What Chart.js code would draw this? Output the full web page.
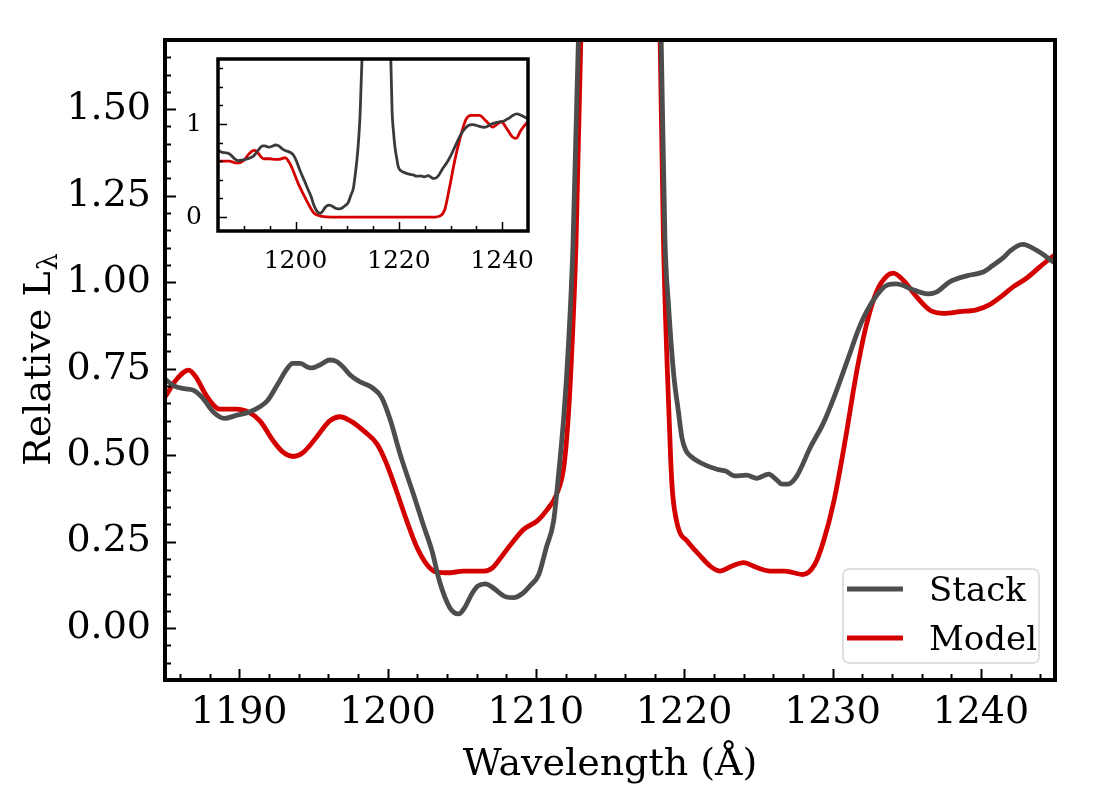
<!DOCTYPE html>
<html>
<head>
<meta charset="utf-8">
<title>Stack vs Model</title>
<script src="https://cdn.jsdelivr.net/npm/chart.js@4.4.1/dist/chart.umd.min.js"></script>
<style>
  body { margin: 0; background: #fff; }
  #wrap { position: relative; width: 1100px; height: 800px; }
  #wrap canvas { position: absolute; left: 0; top: 0; }
</style>
</head>
<body>
<div id="wrap">
  <canvas id="mainChart" width="1100" height="800"></canvas>
  <canvas id="insetChart" width="1100" height="800"></canvas>
</div>
<script>
// stacked spectrum
const stackWave = [1185.0, 1185.6, 1186.3, 1186.9, 1187.5, 1188.3, 1189.0, 1189.8, 1190.7, 1191.4,
  1191.9, 1192.6, 1193.2, 1193.6, 1194.1, 1194.6, 1194.9, 1195.5, 1196.1, 1196.6,
  1197.0, 1197.5, 1198.1, 1199.0, 1199.6, 1200.2, 1200.85, 1201.75, 1202.4, 1203.0,
  1203.5, 1204.2, 1204.8, 1205.2, 1205.7, 1206.1, 1206.6, 1207.1, 1207.6, 1208.0,
  1208.5, 1209.1, 1209.6, 1210.2, 1210.7, 1211.2, 1211.5, 1211.9, 1212.2, 1212.5,
  1212.87, 1213.2, 1213.7, 1214.4, 1215.2, 1216.0, 1216.8, 1217.5, 1218.1, 1218.45,
  1218.7, 1218.95, 1219.3, 1219.6, 1219.85, 1220.1, 1220.4, 1221.1, 1222.2, 1222.8,
  1223.4, 1224.2, 1224.9, 1225.7, 1226.2, 1226.6, 1227.0, 1227.6, 1228.5, 1229.4,
  1230.1, 1231.0, 1231.9, 1232.8, 1233.7, 1234.3, 1235.5, 1236.5, 1237.0, 1237.9,
  1239.1, 1240.2, 1240.8, 1241.5, 1242.0, 1242.8, 1243.8, 1245.0];
const stackFlux = [0.72, 0.70, 0.692, 0.688, 0.667, 0.623, 0.606, 0.615, 0.625, 0.64,
  0.657, 0.705, 0.748, 0.765, 0.765, 0.755, 0.752, 0.762, 0.775, 0.770,
  0.755, 0.731, 0.713, 0.694, 0.667, 0.60, 0.503, 0.387, 0.30, 0.223,
  0.136, 0.059, 0.041, 0.059, 0.10, 0.122, 0.128, 0.117, 0.10, 0.09,
  0.088, 0.10, 0.122, 0.155, 0.232, 0.31, 0.43, 0.62, 0.82, 1.10,
  1.70, 2.4, 3.2, 3.8, 4.0, 3.9, 3.4, 2.7, 2.3, 1.70,
  1.13, 0.93, 0.73, 0.63, 0.55, 0.515, 0.498, 0.478, 0.459, 0.454,
  0.44, 0.442, 0.433, 0.445, 0.43, 0.416, 0.416, 0.44, 0.522, 0.594,
  0.667, 0.773, 0.879, 0.951, 0.992, 0.995, 0.977, 0.966, 0.971, 1.001,
  1.019, 1.03, 1.048, 1.07, 1.091, 1.109, 1.091, 1.055];

// convolved model shown in the main panel
const modelWave = [1185.0, 1185.8, 1186.6, 1187.1, 1187.8, 1188.7, 1189.8, 1190.7, 1191.4, 1192.3,
  1193.0, 1193.65, 1194.3, 1195.2, 1196.1, 1196.8, 1197.5, 1198.4, 1199.3, 1199.95,
  1200.6, 1201.3, 1202.0, 1202.65, 1203.3, 1204.2, 1205.1, 1206.5, 1207.1, 1207.8,
  1208.5, 1209.2, 1210.1, 1210.7, 1211.4, 1211.9, 1212.2, 1212.4, 1212.7, 1213.03,
  1213.4, 1213.9, 1214.6, 1215.4, 1216.2, 1217.0, 1217.6, 1218.05, 1218.38, 1218.6,
  1218.87, 1219.08, 1219.2, 1219.6, 1220.2, 1221.1, 1221.75, 1222.4, 1223.2, 1224.0,
  1224.9, 1225.8, 1226.8, 1228.0, 1228.8, 1229.4, 1230.1, 1230.85, 1231.6, 1232.3,
  1233.0, 1233.7, 1234.1, 1234.8, 1235.7, 1236.6, 1237.5, 1238.6, 1239.7, 1240.6,
  1241.3, 1242.2, 1243.1, 1244.0, 1245.0];
const modelFlux = [0.668, 0.72, 0.746, 0.725, 0.671, 0.633, 0.633, 0.623, 0.599, 0.541,
  0.507, 0.496, 0.507, 0.551, 0.599, 0.611, 0.599, 0.570, 0.532, 0.474,
  0.397, 0.31, 0.232, 0.184, 0.162, 0.16, 0.165, 0.165, 0.175, 0.213,
  0.252, 0.286, 0.31, 0.339, 0.387, 0.47, 0.62, 0.78, 1.10, 1.70,
  2.5, 3.3, 3.9, 4.1, 4.0, 3.5, 2.8, 2.25, 1.70, 1.13,
  0.74, 0.50, 0.40, 0.29, 0.252, 0.208, 0.179, 0.165, 0.179, 0.189,
  0.175, 0.165, 0.165, 0.155, 0.184, 0.252, 0.368, 0.541, 0.734, 0.879,
  0.975, 1.019, 1.026, 1.004, 0.956, 0.918, 0.91, 0.915, 0.92, 0.935,
  0.956, 0.987, 1.012, 1.045, 1.08];

// intrinsic model shown in the inset
const insetWave = [1185.0, 1187.1, 1188.7, 1190.0, 1191.0, 1191.6, 1192.2, 1193.0, 1193.8, 1195.1,
  1196.0, 1196.7, 1198.0, 1199.0, 1200.6, 1202.2, 1203.5, 1205.1, 1207.0, 1226.9,
  1227.9, 1228.9, 1229.8, 1230.8, 1231.8, 1233.0, 1234.0, 1235.6, 1236.9, 1238.2,
  1238.8, 1239.8, 1240.8, 1242.0, 1242.7, 1243.6, 1244.9];
const insetFlux = [0.602, 0.602, 0.58, 0.609, 0.68, 0.71, 0.717, 0.67, 0.627, 0.627,
  0.62, 0.62, 0.638, 0.566, 0.351, 0.172, 0.047, 0.007, 0.0, 0.0,
  0.01, 0.082, 0.315, 0.602, 0.835, 1.05, 1.093, 1.093, 1.032, 0.968,
  0.989, 1.025, 0.96, 0.86, 0.846, 0.932, 1.025];

const xTicks = [1190, 1200, 1210, 1220, 1230, 1240];
const yTicks = [0, 0.25, 0.5, 0.75, 1.0, 1.25, 1.5];
const insetXTicks = [1200, 1220, 1240];
const insetYTicks = [0, 1];

const xTitle = 'Wavelength (Å)';
const yTitle = 'Relative L';
const yTitleSub = 'λ';

const FONT = '"DejaVu Serif", "Liberation Serif", serif';
const stackColor = '#4d4d4d';
const modelColor = '#d40000';

function pts(xs, ys) {
  return xs.map((x, i) => ({x: x, y: ys[i]}));
}

function tickValues(min, max, step) {
  const out = [];
  const first = Math.ceil(min / step - 1e-6);
  const last = Math.floor(max / step + 1e-6);
  for (let i = first; i <= last; i++) {
    const v = +(i * step).toFixed(6);
    if (v > min + 1e-6 && v < max - 1e-6) out.push(v);
  }
  return out;
}

function isMajor(v, step) {
  return Math.abs(v / step - Math.round(v / step)) < 1e-6;
}

// white face, box frame and inward ticks like matplotlib
function framePlugin(cfg) {
  return {
    id: 'frame',
    beforeDatasetsDraw(chart) {
      const {ctx, chartArea: a} = chart;
      ctx.save();
      ctx.fillStyle = '#fff';
      ctx.fillRect(a.left, a.top, a.right - a.left, a.bottom - a.top);
      ctx.restore();
    },
    afterDraw(chart) {
      const {ctx, chartArea: a, scales: {x, y}} = chart;
      ctx.save();
      ctx.strokeStyle = '#000';
      ctx.lineWidth = cfg.tickWidth;
      ctx.beginPath();
      tickValues(x.min, x.max, cfg.xMinor).forEach(v => {
        const px = Math.round(x.getPixelForValue(v)) + 0.5;
        const len = isMajor(v, cfg.xMajor) ? cfg.majorLen : cfg.minorLen;
        ctx.moveTo(px, a.bottom);
        ctx.lineTo(px, a.bottom - len);
      });
      tickValues(y.min, y.max, cfg.yMinor).forEach(v => {
        const py = Math.round(y.getPixelForValue(v)) + 0.5;
        const len = isMajor(v, cfg.yMajor) ? cfg.majorLen : cfg.minorLen;
        ctx.moveTo(a.left, py);
        ctx.lineTo(a.left + len, py);
      });
      ctx.stroke();
      ctx.lineWidth = cfg.frameWidth;
      ctx.lineJoin = 'miter';
      ctx.strokeRect(a.left, a.top, a.right - a.left, a.bottom - a.top);
      ctx.restore();
      if (cfg.extra) cfg.extra(chart);
    }
  };
}

function drawYTitle(chart) {
  const {ctx, chartArea: a} = chart;
  ctx.save();
  ctx.fillStyle = '#000';
  ctx.textBaseline = 'alphabetic';
  ctx.font = '38px ' + FONT;
  const w1 = ctx.measureText(yTitle).width;
  ctx.font = '27px ' + FONT;
  const w2 = ctx.measureText(yTitleSub).width;
  ctx.translate(50, (a.top + a.bottom) / 2);
  ctx.rotate(-Math.PI / 2);
  ctx.font = '38px ' + FONT;
  ctx.fillText(yTitle, -(w1 + w2) / 2, 0);
  ctx.font = '27px ' + FONT;
  ctx.fillText(yTitleSub, -(w1 + w2) / 2 + w1 + 1, 7);
  ctx.restore();
}

function drawLegend(chart) {
  const {ctx, chartArea: a} = chart;
  const w = 196, h = 94;
  const left = a.right - 16 - w, top = a.bottom - 17 - h;
  ctx.save();
  ctx.fillStyle = 'rgba(255,255,255,0.8)';
  ctx.strokeStyle = '#d6d6d6';
  ctx.lineWidth = 1.5;
  ctx.beginPath();
  ctx.roundRect(left, top, w, h, 6);
  ctx.fill();
  ctx.stroke();
  ctx.font = '34px ' + FONT;
  ctx.textBaseline = 'alphabetic';
  chart.data.datasets.forEach((ds, i) => {
    const rowY = top + 20 + i * 49;
    ctx.strokeStyle = ds.borderColor;
    ctx.lineWidth = ds.borderWidth;
    ctx.beginPath();
    ctx.moveTo(left + 4, rowY);
    ctx.lineTo(left + 60, rowY);
    ctx.stroke();
    ctx.fillStyle = '#000';
    ctx.fillText(ds.label, left + 86, rowY + 12);
  });
  ctx.restore();
}

const mainCtx = document.getElementById('mainChart');
const insetCtx = document.getElementById('insetChart');

new Chart(mainCtx, {
  type: 'line',
  data: {
    datasets: [{
      label: 'Stack',
      data: pts(stackWave, stackFlux),
      borderColor: stackColor,
      borderWidth: 4.8,
      pointRadius: 0,
      cubicInterpolationMode: 'monotone',
      borderJoinStyle: 'round',
      borderCapStyle: 'round'
    }, {
      label: 'Model',
      data: pts(modelWave, modelFlux),
      borderColor: modelColor,
      borderWidth: 4.8,
      pointRadius: 0,
      cubicInterpolationMode: 'monotone',
      borderJoinStyle: 'round',
      borderCapStyle: 'round'
    }]
  },
  options: {
    responsive: false,
    animation: false,
    events: [],
    layout: { padding: { left: 0, right: 45, top: 40, bottom: 0 } },
    plugins: { legend: { display: false }, tooltip: { enabled: false } },
    scales: {
      x: {
        type: 'linear',
        min: 1185,
        max: 1245,
        afterBuildTicks: s => { s.ticks = xTicks.map(v => ({value: v})); },
        afterFit: s => { s.height = 120; },
        grid: { display: false },
        border: { display: false },
        ticks: { color: '#000', font: { family: FONT, size: 38 }, padding: 2, maxRotation: 0, autoSkip: false,
          callback: v => String(v) },
        title: { display: true, text: xTitle, color: '#000', font: { family: FONT, size: 38 },
          padding: { top: 0, bottom: 12 } }
      },
      y: {
        type: 'linear',
        min: -0.15,
        max: 1.70,
        afterBuildTicks: s => { s.ticks = yTicks.map(v => ({value: v})); },
        afterFit: s => { s.width = 165; },
        grid: { display: false },
        border: { display: false },
        ticks: { color: '#000', font: { family: FONT, size: 38 }, padding: 6, autoSkip: false,
          callback: v => v.toFixed(2) }
      }
    }
  },
  plugins: [framePlugin({
    xMinor: 2, xMajor: 10, yMinor: 0.05, yMajor: 0.25,
    majorLen: 11, minorLen: 6, tickWidth: 2, frameWidth: 4,
    extra: chart => { drawYTitle(chart); drawLegend(chart); }
  })]
});

new Chart(insetCtx, {
  type: 'line',
  data: {
    datasets: [{
      label: 'Stack',
      data: pts(stackWave, stackFlux),
      borderColor: '#3a3a3a',
      borderWidth: 2.8,
      pointRadius: 0,
      cubicInterpolationMode: 'monotone'
    }, {
      label: 'Model',
      data: pts(insetWave, insetFlux),
      borderColor: modelColor,
      borderWidth: 2.8,
      pointRadius: 0,
      cubicInterpolationMode: 'monotone'
    }]
  },
  options: {
    responsive: false,
    animation: false,
    events: [],
    layout: { padding: { left: 150, right: 572, top: 59, bottom: 529 } },
    plugins: { legend: { display: false }, tooltip: { enabled: false } },
    scales: {
      x: {
        type: 'linear',
        min: 1185,
        max: 1245,
        afterBuildTicks: s => { s.ticks = insetXTicks.map(v => ({value: v})); },
        afterFit: s => { s.height = 40; },
        grid: { display: false },
        border: { display: false },
        ticks: { color: '#000', font: { family: FONT, size: 25 }, padding: 7, maxRotation: 0, autoSkip: false,
          callback: v => String(v) }
      },
      y: {
        type: 'linear',
        min: -0.15,
        max: 1.70,
        afterBuildTicks: s => { s.ticks = insetYTicks.map(v => ({value: v})); },
        afterFit: s => { s.width = 68; },
        grid: { display: false },
        border: { display: false },
        ticks: { color: '#000', font: { family: FONT, size: 25 }, padding: 8, autoSkip: false,
          callback: v => String(v) }
      }
    }
  },
  plugins: [framePlugin({
    xMinor: 5, xMajor: 20, yMinor: 0.2, yMajor: 1,
    majorLen: 9, minorLen: 5, tickWidth: 1.5, frameWidth: 3.5
  })]
});
</script>
</body>
</html>
